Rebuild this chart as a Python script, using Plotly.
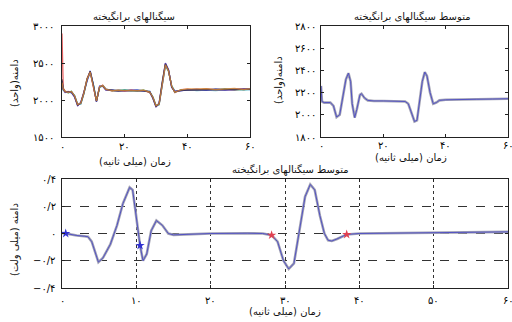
import plotly.graph_objects as go

# ---------------- data ----------------
t_top = [0, 0.4, 1, 2, 3, 4, 5, 6, 7, 8, 9, 10, 11, 12, 13, 14, 16, 18, 20, 22,
         24, 26, 28, 29, 30, 31, 32, 33, 34, 35, 36, 38, 40, 43, 46, 49, 52, 55, 58, 60]

sig_black = [2280, 2150, 2110, 2105, 2110, 2050, 1930, 1960, 2100, 2280, 2390, 2200, 1980, 2180, 2190, 2140, 2130, 2125, 2130, 2128,
             2130, 2125, 2110, 2030, 1915, 1950, 2250, 2490, 2400, 2180, 2110, 2130, 2135, 2140, 2138, 2142, 2145, 2140, 2148, 2145]
sig_red = [2900, 2160, 2120, 2100, 2115, 2060, 1940, 1950, 2090, 2290, 2380, 2190, 1990, 2170, 2200, 2150, 2120, 2135, 2120, 2135,
           2125, 2130, 2100, 2040, 1925, 1940, 2240, 2470, 2390, 2190, 2100, 2140, 2145, 2130, 2150, 2135, 2140, 2155, 2140, 2150]
sig_blue = [2250, 2140, 2100, 2110, 2100, 2040, 1920, 1970, 2110, 2270, 2395, 2210, 1975, 2190, 2185, 2135, 2135, 2120, 2125, 2120,
            2135, 2120, 2115, 2020, 1905, 1960, 2260, 2500, 2410, 2170, 2120, 2125, 2130, 2145, 2130, 2150, 2135, 2145, 2150, 2140]
sig_green = [2230, 2135, 2115, 2095, 2120, 2055, 1935, 1955, 2095, 2285, 2370, 2205, 1985, 2175, 2195, 2145, 2125, 2130, 2135, 2125,
             2120, 2135, 2105, 2035, 1920, 1945, 2245, 2480, 2395, 2185, 2105, 2135, 2140, 2135, 2145, 2130, 2150, 2135, 2145, 2155]
sig_magenta = [2260, 2145, 2105, 2115, 2105, 2045, 1925, 1965, 2105, 2275, 2385, 2195, 1980, 2185, 2188, 2138, 2128, 2122, 2128, 2132,
               2128, 2128, 2112, 2025, 1910, 1955, 2255, 2495, 2405, 2175, 2115, 2128, 2138, 2142, 2140, 2145, 2142, 2138, 2152, 2148]
sig_cyan = [2240, 2130, 2118, 2108, 2098, 2065, 1945, 1945, 2085, 2265, 2375, 2215, 1995, 2165, 2192, 2148, 2132, 2118, 2132, 2124,
            2132, 2122, 2118, 2045, 1930, 1935, 2235, 2465, 2385, 2195, 2125, 2122, 2142, 2128, 2135, 2128, 2138, 2150, 2135, 2142]
sig_orange = [2235, 2150, 2112, 2102, 2112, 2058, 1938, 1958, 2098, 2282, 2378, 2198, 1988, 2178, 2196, 2142, 2126, 2128, 2126, 2130,
              2126, 2132, 2108, 2038, 1922, 1948, 2242, 2475, 2392, 2188, 2108, 2136, 2150, 2152, 2155, 2140, 2152, 2158, 2142, 2150]

t_mean = [0, 0.3, 1, 2, 3, 4, 5, 6, 7, 8, 8.8, 9.5, 10, 10.8, 11.5, 12.5, 13, 14, 15, 17,
          20, 25, 27, 28, 29, 30, 30.8, 31.5, 32.5, 33.3, 34, 35, 36, 37, 38, 40, 45, 50, 55, 60]
mean_units = [2260, 2120, 2110, 2110, 2110, 2080, 1980, 2000, 2150, 2320, 2375, 2300, 2100, 1975, 2050, 2180, 2190, 2150, 2130, 2125,
              2125, 2125, 2120, 2100, 2020, 1940, 1950, 2100, 2300, 2385, 2350, 2200, 2100, 2110, 2130, 2135, 2140, 2140, 2142, 2145]

t_bot = [0, 0.5, 1, 2, 3, 3.5, 4, 4.9, 5.5, 6.5, 7.4, 8.2, 9.1, 9.5, 9.8, 10.1, 10.5, 10.9, 11.4, 12,
         12.7, 13.5, 14.3, 15, 17, 20, 25, 27, 28.2, 29, 29.8, 30.5, 31.2, 32, 32.7, 33.4, 34, 34.7, 35.3, 35.8,
         36.3, 37, 38.3, 40, 45, 50, 52, 55, 60]
mean_mv = [0.005, 0.0, -0.01, -0.015, -0.02, -0.024, -0.06, -0.21, -0.18, -0.08, 0.06, 0.22, 0.338, 0.32, 0.2, 0.06, -0.088, -0.2, -0.15, 0.02,
           0.095, 0.06, 0.0, -0.01, -0.005, 0.0, 0.002, 0.0, -0.012, -0.06, -0.2, -0.26, -0.22, 0.06, 0.27, 0.36, 0.32, 0.13, 0.0, -0.05,
           -0.055, -0.04, -0.007, 0.0, 0.003, 0.005, 0.01, 0.008, 0.012]

blue_mark_t = [0.5, 10.5]
blue_mark_v = [0.0, -0.088]
red_mark_t = [28.2, 38.3]
red_mark_v = [-0.012, -0.007]

# tick labels
tl_top_vals = [1500, 2000, 2500, 3000]
tl_top_text = ["۱۵۰۰", "۲۰۰۰", "۲۵۰۰", "۳۰۰۰"]
tr_top_vals = [1800, 2000, 2200, 2400, 2600, 2800]
tr_top_text = ["۱۸۰۰", "۲۰۰۰", "۲۲۰۰", "۲۴۰۰", "۲۶۰۰", "۲۸۰۰"]
x_top_vals = [0, 20, 40, 60]
x_top_text = ["۰", "۲۰", "۴۰", "۶۰"]
bot_y_vals = [-0.4, -0.2, 0, 0.2, 0.4]
bot_y_text = ["−۰/۴", "−۰/۲", "۰", "۰/۲", "۰/۴"]
bot_x_vals = [0, 10, 20, 30, 40, 50, 60]
bot_x_text = ["۰", "۱۰", "۲۰", "۳۰", "۴۰", "۵۰", "۶۰"]

title_all = "سیگنالهای برانگیخته"
title_mean = "متوسط سیگنالهای برانگیخته"
xlab = "زمان (میلی ثانیه)"
ylab_top = "دامنه(واحد)"
ylab_bot = "دامنه (میلی ولت)"

FONT = "DejaVu Sans"

fig = go.Figure()

# top-left: individual signals
for ys, col in [(sig_red, "#e03030"), (sig_green, "#2fa060"), (sig_cyan, "#30b8c8"),
                (sig_magenta, "#c040b0"), (sig_blue, "#3a3ad8"), (sig_black, "#303030"),
                (sig_orange, "#e08a30")]:
    fig.add_trace(go.Scatter(x=t_top, y=ys, mode="lines", line=dict(color=col, width=1.3),
                             xaxis="x", yaxis="y", showlegend=False, opacity=0.75))

# top-right: mean
fig.add_trace(go.Scatter(x=t_mean, y=mean_units, mode="lines", line=dict(color="#a4a4b4", width=2.6),
                         xaxis="x2", yaxis="y2", showlegend=False))
fig.add_trace(go.Scatter(x=t_mean, y=mean_units, mode="lines", line=dict(color="#4a4ac4", width=0.9),
                         xaxis="x2", yaxis="y2", showlegend=False))

# bottom: mean in mV
fig.add_trace(go.Scatter(x=t_bot, y=mean_mv, mode="lines", line=dict(color="#a4a4b4", width=2.6),
                         xaxis="x3", yaxis="y3", showlegend=False))
fig.add_trace(go.Scatter(x=t_bot, y=mean_mv, mode="lines", line=dict(color="#4a4ac4", width=0.9),
                         xaxis="x3", yaxis="y3", showlegend=False))
fig.add_trace(go.Scatter(x=blue_mark_t, y=blue_mark_v, mode="markers",
                         marker=dict(symbol="star", size=7, color="#3030d0"),
                         xaxis="x3", yaxis="y3", showlegend=False))
fig.add_trace(go.Scatter(x=red_mark_t, y=red_mark_v, mode="markers",
                         marker=dict(symbol="star", size=7, color="#e04050"),
                         xaxis="x3", yaxis="y3", showlegend=False))

ax_common = dict(showline=True, linecolor="#222", linewidth=1, mirror="ticks", ticks="inside",
                 ticklen=3, tickcolor="#222", showgrid=False, zeroline=False, showticklabels=False)

# axes: domains (paper fractions)
TL_X = [62/512, 250/512]
TR_X = [321/512, 508/512]
TOP_Y = [1-137/322, 1-26/322]
BOT_Y = [1-288/322, 1-179/322]

fig.update_layout(
    width=512, height=322, margin=dict(l=0, r=0, t=0, b=0),
    paper_bgcolor="white", plot_bgcolor="white",
    xaxis=dict(domain=TL_X, range=[0, 60], tickvals=x_top_vals, anchor="y", **ax_common),
    yaxis=dict(domain=TOP_Y, range=[1500, 3000], tickvals=tl_top_vals, anchor="x", **ax_common),
    xaxis2=dict(domain=TR_X, range=[0, 60], tickvals=x_top_vals, anchor="y2", **ax_common),
    yaxis2=dict(domain=TOP_Y, range=[1800, 2800], tickvals=tr_top_vals, anchor="x2", **ax_common),
    xaxis3=dict(domain=[62/512, 508/512], range=[0, 60], tickvals=bot_x_vals, anchor="y3",
                **{**ax_common, "showgrid": True, "gridcolor": "#333", "griddash": "dot", "gridwidth": 1}),
    yaxis3=dict(domain=BOT_Y, range=[-0.4, 0.4], tickvals=bot_y_vals, anchor="x3",
                **{**ax_common, "showgrid": True, "gridcolor": "#333", "griddash": "dash", "gridwidth": 1}),
)

ann = []
TICKFONT = dict(family=FONT, size=10, color="#000")

def xticks(xref, vals, texts, ypix):
    for v, t in zip(vals, texts):
        ann.append(dict(x=v, y=1-ypix/322, xref=xref, yref="paper", text=t, showarrow=False,
                        font=TICKFONT, xanchor="center", yanchor="middle"))

def yticks(yref, vals, texts, xpix):
    for v, t in zip(vals, texts):
        ann.append(dict(x=xpix/512, y=v, xref="paper", yref=yref, text=t, showarrow=False,
                        font=TICKFONT, xanchor="right", yanchor="middle"))

def add_text(x, y, text, size=10, angle=0):
    ann.append(dict(x=x/512, y=1-y/322, xref="paper", yref="paper", text=text, showarrow=False,
                    textangle=angle, font=dict(family=FONT, size=size, color="#111"),
                    xanchor="center", yanchor="middle"))

add_text(134, 17, title_all)
add_text(412, 17, title_mean)
add_text(290, 170, title_mean)
add_text(135, 162, xlab)
add_text(411, 158, xlab)
add_text(285, 311, xlab)
add_text(15, 83, ylab_top, angle=-90)
add_text(279, 80, ylab_top, angle=-90)
add_text(15, 240, ylab_bot, angle=-90)

xticks("x", x_top_vals, x_top_text, 146)
xticks("x2", x_top_vals, x_top_text, 145)
xticks("x3", bot_x_vals, bot_x_text, 300)
yticks("y", tl_top_vals, tl_top_text, 56)
yticks("y2", tr_top_vals, tr_top_text, 318)
yticks("y3", bot_y_vals, bot_y_text, 58)

fig.update_layout(annotations=ann)

fig.write_html("out.html",
               config={"displayModeBar": False, "staticPlot": True},
               post_script="document.body.style.margin='0';document.body.style.overflow='hidden';")
